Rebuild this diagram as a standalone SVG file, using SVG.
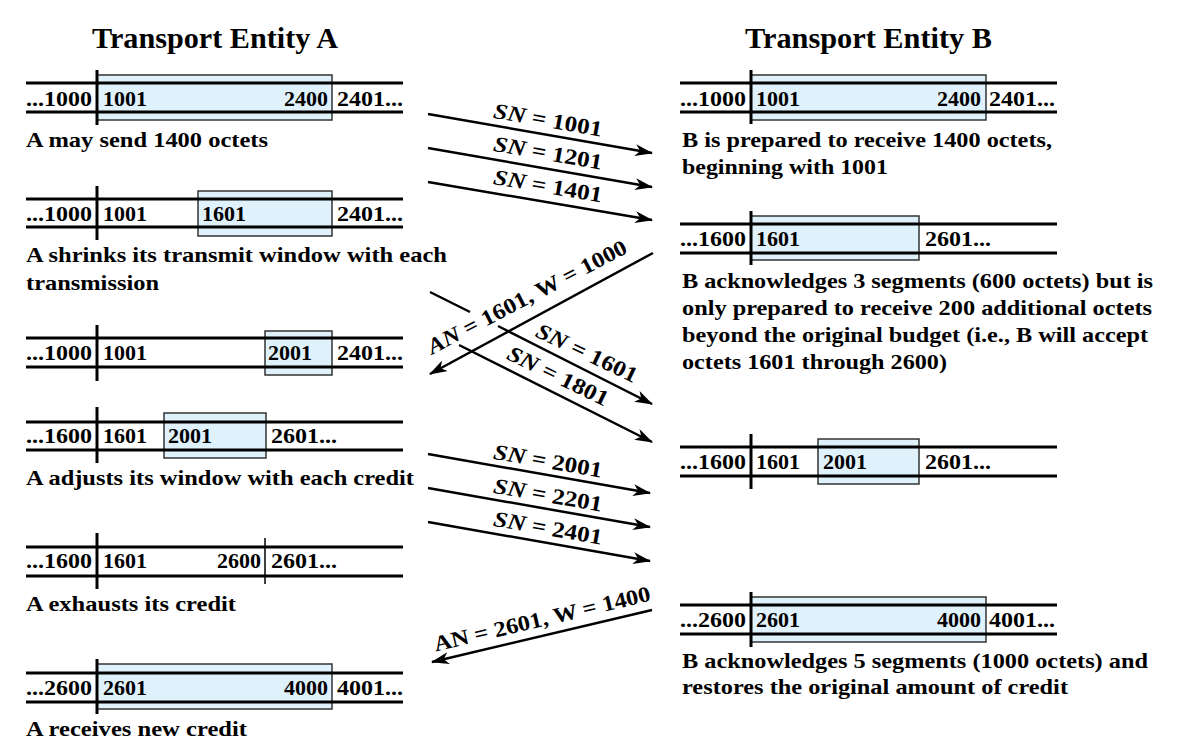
<svg xmlns="http://www.w3.org/2000/svg" width="1180" height="752" viewBox="0 0 1180 752">
<style>
.ln{stroke:#000;stroke-width:3}
.dv{stroke:#000;stroke-width:3}
.dvt{stroke:#000;stroke-width:1.5}
.win{fill:#dff1fb;stroke:#333;stroke-width:1.5}
text{font-family:"Liberation Serif","Times New Roman",serif;font-weight:bold;font-size:22px;fill:#000}
.ttl{font-size:30px}
.arr{stroke:#000;stroke-width:2.5;fill:none;marker-end:url(#ah)}
.lbl{text-anchor:middle}
.halo{stroke:#fff;stroke-width:4;paint-order:stroke;stroke-linejoin:round}
</style>
<defs>
<marker id="ah" markerUnits="userSpaceOnUse" markerWidth="20" markerHeight="14" refX="17" refY="6" orient="auto">
<path d="M0,0 L18,6 L0,12 L5,6 z" fill="#000"/>
</marker>
</defs>
<rect width="1180" height="752" fill="#fff"/>
<text class="ttl" x="92" y="48" textLength="246" lengthAdjust="spacingAndGlyphs">Transport Entity A</text>
<text class="ttl" x="745" y="48" textLength="247" lengthAdjust="spacingAndGlyphs">Transport Entity B</text>

<g id="a1">
<rect class="win" x="97" y="75" width="235" height="45"/>
<line class="ln" x1="26" y1="83" x2="403" y2="83"/><line class="ln" x1="26" y1="112" x2="403" y2="112"/>
<line class="dv" x1="97" y1="70" x2="97" y2="125"/>
<text x="26" y="106" textLength="66" lengthAdjust="spacingAndGlyphs">...1000</text>
<text x="103" y="106">1001</text>
<text x="328" y="106" text-anchor="end">2400</text>
<text x="337" y="106" textLength="66" lengthAdjust="spacingAndGlyphs">2401...</text>
<text x="26" y="147" textLength="242" lengthAdjust="spacingAndGlyphs">A may send 1400 octets</text>
</g>
<g id="a2">
<rect class="win" x="198" y="191" width="134" height="45"/>
<line class="ln" x1="26" y1="199" x2="403" y2="199"/><line class="ln" x1="26" y1="227" x2="403" y2="227"/>
<line class="dv" x1="97" y1="186" x2="97" y2="240"/>
<text x="26" y="221" textLength="66" lengthAdjust="spacingAndGlyphs">...1000</text>
<text x="103" y="221">1001</text>
<text x="202" y="221">1601</text>
<text x="337" y="221" textLength="66" lengthAdjust="spacingAndGlyphs">2401...</text>
<text x="26" y="262" textLength="421" lengthAdjust="spacingAndGlyphs">A shrinks its transmit window with each</text>
<text x="26" y="290" textLength="133" lengthAdjust="spacingAndGlyphs">transmission</text>
</g>
<g id="a3">
<rect class="win" x="265" y="331" width="67" height="44"/>
<line class="ln" x1="26" y1="338" x2="403" y2="338"/><line class="ln" x1="26" y1="367" x2="403" y2="367"/>
<line class="dv" x1="97" y1="325" x2="97" y2="381"/>
<text x="26" y="360" textLength="66" lengthAdjust="spacingAndGlyphs">...1000</text>
<text x="103" y="360">1001</text>
<text x="268" y="360">2001</text>
<text x="337" y="360" textLength="66" lengthAdjust="spacingAndGlyphs">2401...</text>
</g>
<g id="a4">
<rect class="win" x="164" y="413" width="102" height="45"/>
<line class="ln" x1="26" y1="422" x2="403" y2="422"/><line class="ln" x1="26" y1="450" x2="403" y2="450"/>
<line class="dv" x1="97" y1="407" x2="97" y2="463"/>
<text x="26" y="443" textLength="66" lengthAdjust="spacingAndGlyphs">...1600</text>
<text x="103" y="443">1601</text>
<text x="168" y="443">2001</text>
<text x="271" y="443" textLength="66" lengthAdjust="spacingAndGlyphs">2601...</text>
<text x="26" y="485" textLength="388" lengthAdjust="spacingAndGlyphs">A adjusts its window with each credit</text>
</g>
<g id="a5">
<line class="ln" x1="26" y1="547" x2="403" y2="547"/><line class="ln" x1="26" y1="576" x2="403" y2="576"/>
<line class="dv" x1="97" y1="533" x2="97" y2="589"/>
<line class="dvt" x1="265" y1="538" x2="265" y2="584"/>
<text x="26" y="568" textLength="66" lengthAdjust="spacingAndGlyphs">...1600</text>
<text x="103" y="568">1601</text>
<text x="261" y="568" text-anchor="end">2600</text>
<text x="271" y="568" textLength="66" lengthAdjust="spacingAndGlyphs">2601...</text>
<text x="26" y="611" textLength="210" lengthAdjust="spacingAndGlyphs">A exhausts its credit</text>
</g>
<g id="a6">
<rect class="win" x="97" y="664" width="235" height="45"/>
<line class="ln" x1="26" y1="673" x2="403" y2="673"/><line class="ln" x1="26" y1="702" x2="403" y2="702"/>
<line class="dv" x1="97" y1="659" x2="97" y2="714"/>
<text x="26" y="695" textLength="66" lengthAdjust="spacingAndGlyphs">...2600</text>
<text x="103" y="695">2601</text>
<text x="328" y="695" text-anchor="end">4000</text>
<text x="337" y="695" textLength="66" lengthAdjust="spacingAndGlyphs">4001...</text>
<text x="26" y="736" textLength="221" lengthAdjust="spacingAndGlyphs">A receives new credit</text>
</g>

<g id="b1">
<rect class="win" x="751" y="75" width="235" height="45"/>
<line class="ln" x1="680" y1="83" x2="1057" y2="83"/><line class="ln" x1="680" y1="112" x2="1057" y2="112"/>
<line class="dv" x1="751" y1="70" x2="751" y2="124"/>
<text x="680" y="106" textLength="66" lengthAdjust="spacingAndGlyphs">...1000</text>
<text x="756" y="106">1001</text>
<text x="981" y="106" text-anchor="end">2400</text>
<text x="989" y="106" textLength="66" lengthAdjust="spacingAndGlyphs">2401...</text>
<text x="682" y="147" textLength="370" lengthAdjust="spacingAndGlyphs">B is prepared to receive 1400 octets,</text>
<text x="682" y="174" textLength="206" lengthAdjust="spacingAndGlyphs">beginning with 1001</text>
</g>
<g id="b2">
<rect class="win" x="751" y="216" width="168" height="44"/>
<line class="ln" x1="680" y1="224" x2="1057" y2="224"/><line class="ln" x1="680" y1="253" x2="1057" y2="253"/>
<line class="dv" x1="751" y1="211" x2="751" y2="265"/>
<text x="680" y="246" textLength="66" lengthAdjust="spacingAndGlyphs">...1600</text>
<text x="756" y="246">1601</text>
<text x="925" y="246" textLength="66" lengthAdjust="spacingAndGlyphs">2601...</text>
<text x="682" y="288" textLength="471" lengthAdjust="spacingAndGlyphs">B acknowledges 3 segments (600 octets) but is</text>
<text x="682" y="315" textLength="470" lengthAdjust="spacingAndGlyphs">only prepared to receive 200 additional octets</text>
<text x="682" y="342" textLength="466" lengthAdjust="spacingAndGlyphs">beyond the original budget (i.e., B will accept</text>
<text x="682" y="369" textLength="265" lengthAdjust="spacingAndGlyphs">octets 1601 through 2600)</text>
</g>
<g id="b3">
<rect class="win" x="818" y="439" width="101" height="45"/>
<line class="ln" x1="680" y1="447" x2="1057" y2="447"/><line class="ln" x1="680" y1="476" x2="1057" y2="476"/>
<line class="dv" x1="751" y1="434" x2="751" y2="489"/>
<text x="680" y="469" textLength="66" lengthAdjust="spacingAndGlyphs">...1600</text>
<text x="756" y="469">1601</text>
<text x="823" y="469">2001</text>
<text x="925" y="469" textLength="66" lengthAdjust="spacingAndGlyphs">2601...</text>
</g>
<g id="b4">
<rect class="win" x="751" y="597" width="235" height="45"/>
<line class="ln" x1="680" y1="605" x2="1057" y2="605"/><line class="ln" x1="680" y1="634" x2="1057" y2="634"/>
<line class="dv" x1="751" y1="592" x2="751" y2="647"/>
<text x="680" y="627" textLength="66" lengthAdjust="spacingAndGlyphs">...2600</text>
<text x="756" y="627">2601</text>
<text x="981" y="627" text-anchor="end">4000</text>
<text x="989" y="627" textLength="66" lengthAdjust="spacingAndGlyphs">4001...</text>
<text x="682" y="668" textLength="466" lengthAdjust="spacingAndGlyphs">B acknowledges 5 segments (1000 octets) and</text>
<text x="682" y="694" textLength="386" lengthAdjust="spacingAndGlyphs">restores the original amount of credit</text>
</g>

<g id="connectors">
<path class="arr" d="M428,114 L652,153"/>
<path class="arr" d="M428,148 L652,187"/>
<path class="arr" d="M428,182 L652,220"/>
<path class="arr" d="M653,253 L430,374"/>
<path class="arr" d="M430,292 L470,312 M498,326 L652,404"/>
<path class="arr" d="M459,345 L652,442"/>
<path class="arr" d="M428,454 L650,493"/>
<path class="arr" d="M428,488 L650,527"/>
<path class="arr" d="M428,522 L650,561"/>
<path class="arr" d="M652,610 L432,662"/>

<text class="lbl" transform="translate(548,120) rotate(9.9)" dy="0.33em" textLength="110" lengthAdjust="spacingAndGlyphs"><tspan font-style="italic">SN</tspan> = 1001</text>
<text class="lbl" transform="translate(548,153) rotate(9.9)" dy="0.33em" textLength="110" lengthAdjust="spacingAndGlyphs"><tspan font-style="italic">SN</tspan> = 1201</text>
<text class="lbl" transform="translate(548,186) rotate(9.7)" dy="0.33em" textLength="110" lengthAdjust="spacingAndGlyphs"><tspan font-style="italic">SN</tspan> = 1401</text>
<text class="lbl halo" transform="translate(527,297) rotate(-27.5)" dy="0.33em" textLength="222" lengthAdjust="spacingAndGlyphs"><tspan font-style="italic">AN</tspan> = 1601, W = 1000</text>
<text class="lbl" transform="translate(587,353) rotate(25.5)" dy="0.33em" textLength="110" lengthAdjust="spacingAndGlyphs"><tspan font-style="italic">SN</tspan> = 1601</text>
<text class="lbl" transform="translate(558,376) rotate(26)" dy="0.33em" textLength="110" lengthAdjust="spacingAndGlyphs"><tspan font-style="italic">SN</tspan> = 1801</text>
<text class="lbl" transform="translate(548,461) rotate(9.9)" dy="0.33em" textLength="110" lengthAdjust="spacingAndGlyphs"><tspan font-style="italic">SN</tspan> = 2001</text>
<text class="lbl" transform="translate(548,495) rotate(9.9)" dy="0.33em" textLength="110" lengthAdjust="spacingAndGlyphs"><tspan font-style="italic">SN</tspan> = 2201</text>
<text class="lbl" transform="translate(548,528) rotate(9.9)" dy="0.33em" textLength="110" lengthAdjust="spacingAndGlyphs"><tspan font-style="italic">SN</tspan> = 2401</text>
<text class="lbl" transform="translate(542,619) rotate(-13.3)" dy="0.33em" textLength="222" lengthAdjust="spacingAndGlyphs">AN = 2601, W = 1400</text>
</g>
</svg>
